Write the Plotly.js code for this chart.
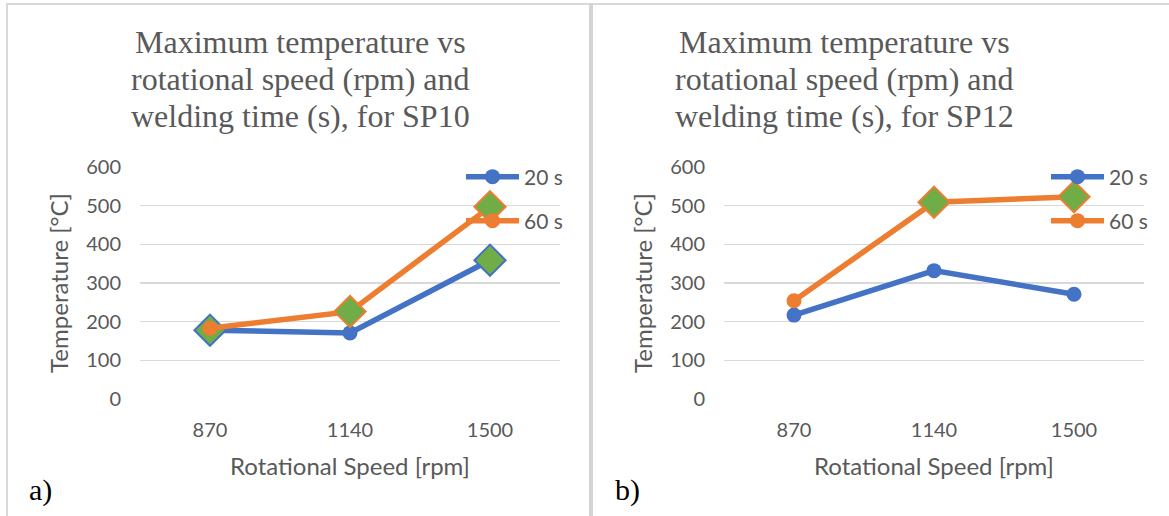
<!DOCTYPE html>
<html>
<head>
<meta charset="utf-8">
<script src="https://cdn.plot.ly/plotly-3.0.1.min.js"></script>
<style>html,body{margin:0;padding:0;background:#fff;}#chart{width:1169px;height:516px;}</style>
</head>
<body>
<div id="chart"></div>
<script>
// ---- data ----
var speeds = ['870', '1140', '1500'];
var seriesNames = ['20 s', '60 s'];
// SP10
var sp10_20s = [178, 171, 359];
var sp10_60s = [183, 226, 497];
var sp10_20s_highlight = [true, false, true];
var sp10_60s_highlight = [false, true, true];
// SP12
var sp12_20s = [217, 332, 271];
var sp12_60s = [254, 509, 523];
var sp12_20s_highlight = [false, false, false];
var sp12_60s_highlight = [false, true, true];
var titleLinesSP10 = ['Maximum temperature vs', 'rotational speed (rpm) and', 'welding time (s), for SP10'];
var titleLinesSP12 = ['Maximum temperature vs', 'rotational speed (rpm) and', 'welding time (s), for SP12'];
var panelLabels = ['a)', 'b)'];
var yTickVals = [0, 100, 200, 300, 400, 500, 600];
var xTitle = 'Rotational Speed [rpm]';
var yTitle = 'Temperature [°C]';

var W = 1169, H = 516;
var BLUE = '#4472C4', ORANGE = '#ED7D31', GREEN = '#70AD47', GREY = '#595959';
var FONT = 'Lato, "Open Sans", sans-serif';
var SERIF = '"Liberation Serif", "Times New Roman", serif';

function pick(arr, flags) { return arr.filter(function (v, i) { return flags[i]; }); }

function lineTrace(y, color, name, xa, ya, leg) {
  return {
    type: 'scatter', mode: 'lines+markers', x: speeds, y: y, name: name,
    xaxis: xa, yaxis: ya, legend: leg,
    line: {color: color, width: 5.5},
    marker: {symbol: 'circle', size: 15, color: color},
    hoverinfo: 'x+y+name'
  };
}
function diamondTrace(y, flags, border, xa, ya) {
  return {
    type: 'scatter', mode: 'markers', x: pick(speeds, flags), y: pick(y, flags),
    xaxis: xa, yaxis: ya, showlegend: false,
    marker: {symbol: 'diamond', size: 24, color: GREEN, line: {color: border, width: 2}},
    hoverinfo: 'skip'
  };
}

var data = [
  lineTrace(sp10_20s, BLUE, seriesNames[0], 'x', 'y', 'legend'),
  diamondTrace(sp10_20s, sp10_20s_highlight, BLUE, 'x', 'y'),
  lineTrace(sp10_60s, ORANGE, seriesNames[1], 'x', 'y', 'legend2'),
  diamondTrace(sp10_60s, sp10_60s_highlight, ORANGE, 'x', 'y'),
  lineTrace(sp12_20s, BLUE, seriesNames[0], 'x2', 'y2', 'legend3'),
  diamondTrace(sp12_20s, sp12_20s_highlight, BLUE, 'x2', 'y2'),
  lineTrace(sp12_60s, ORANGE, seriesNames[1], 'x2', 'y2', 'legend4'),
  diamondTrace(sp12_60s, sp12_60s_highlight, ORANGE, 'x2', 'y2')
];

function px(x) { return x / W; }
function py(y) { return 1 - y / H; }

function xaxis(d0, d1, anchor) {
  return {
    domain: [px(d0), px(d1)], anchor: anchor, type: 'category',
    range: [-0.5, 2.5], showgrid: false, zeroline: false, showline: false, ticks: '',
    tickfont: {family: FONT, size: 20, color: GREY}, ticklabelstandoff: 17,
    automargin: false, fixedrange: true,
    title: {text: xTitle, font: {family: FONT, size: 24, color: GREY}, standoff: 18}
  };
}
function yaxis(anchor) {
  return {
    domain: [py(399), py(167)], anchor: anchor, range: [0, 600],
    tickvals: yTickVals, showgrid: true, gridcolor: '#D9D9D9', gridwidth: 1.5,
    zeroline: false, showline: false, ticks: '',
    tickfont: {family: FONT, size: 20, color: GREY}, ticklabelstandoff: 18,
    automargin: false, fixedrange: true,
    title: {text: yTitle, font: {family: FONT, size: 24, color: GREY}, standoff: 10}
  };
}
function legendAt(xpx, ypx) {
  return {
    x: px(xpx), y: py(ypx), xanchor: 'left', yanchor: 'middle',
    bgcolor: 'rgba(0,0,0,0)', borderwidth: 0, itemwidth: 53,
    font: {family: FONT, size: 21, color: GREY}, itemclick: false, itemdoubleclick: false
  };
}

var annotations = [];
function addTitle(lines, cx) {
  var baselines = [52, 89, 126];
  lines.forEach(function (t, i) {
    annotations.push({text: t, x: px(cx), y: py(baselines[i] - 10), xref: 'paper', yref: 'paper',
      xanchor: 'center', yanchor: 'middle', showarrow: false,
      font: {family: SERIF, size: 32, color: GREY}});
  });
}
addTitle(titleLinesSP10, 300);
addTitle(titleLinesSP12, 844);
annotations.push({text: panelLabels[0], x: px(27), y: py(490), xref: 'paper', yref: 'paper', xanchor: 'left', yanchor: 'middle',
  showarrow: false, font: {family: SERIF, size: 30, color: '#000'}});
annotations.push({text: panelLabels[1], x: px(613), y: py(490), xref: 'paper', yref: 'paper', xanchor: 'left', yanchor: 'middle',
  showarrow: false, font: {family: SERIF, size: 30, color: '#000'}});

var layout = {
  width: W, height: H, margin: {l: 0, r: 0, t: 0, b: 0},
  paper_bgcolor: '#fff', plot_bgcolor: 'rgba(0,0,0,0)', showlegend: true,
  xaxis: xaxis(140, 560, 'y'), yaxis: yaxis('x'),
  xaxis2: xaxis(724, 1144, 'y2'), yaxis2: yaxis('x2'),
  legend: legendAt(461, 177), legend2: legendAt(461, 221),
  legend3: legendAt(1046, 177), legend4: legendAt(1046, 221),
  annotations: annotations,
  shapes: [
    {type: 'line', xref: 'paper', yref: 'paper', x0: px(6), x1: 1, y0: py(4), y1: py(4), line: {color: '#D9D9D9', width: 2}},
    {type: 'line', xref: 'paper', yref: 'paper', x0: px(7), x1: px(7), y0: py(3), y1: 0, line: {color: '#D9D9D9', width: 2}},
    {type: 'line', xref: 'paper', yref: 'paper', x0: px(591), x1: px(591), y0: py(3), y1: 0, line: {color: '#D4D4D4', width: 4}}
  ]
};

Plotly.newPlot('chart', data, layout, {displayModeBar: false, staticPlot: true});
</script>
</body>
</html>
